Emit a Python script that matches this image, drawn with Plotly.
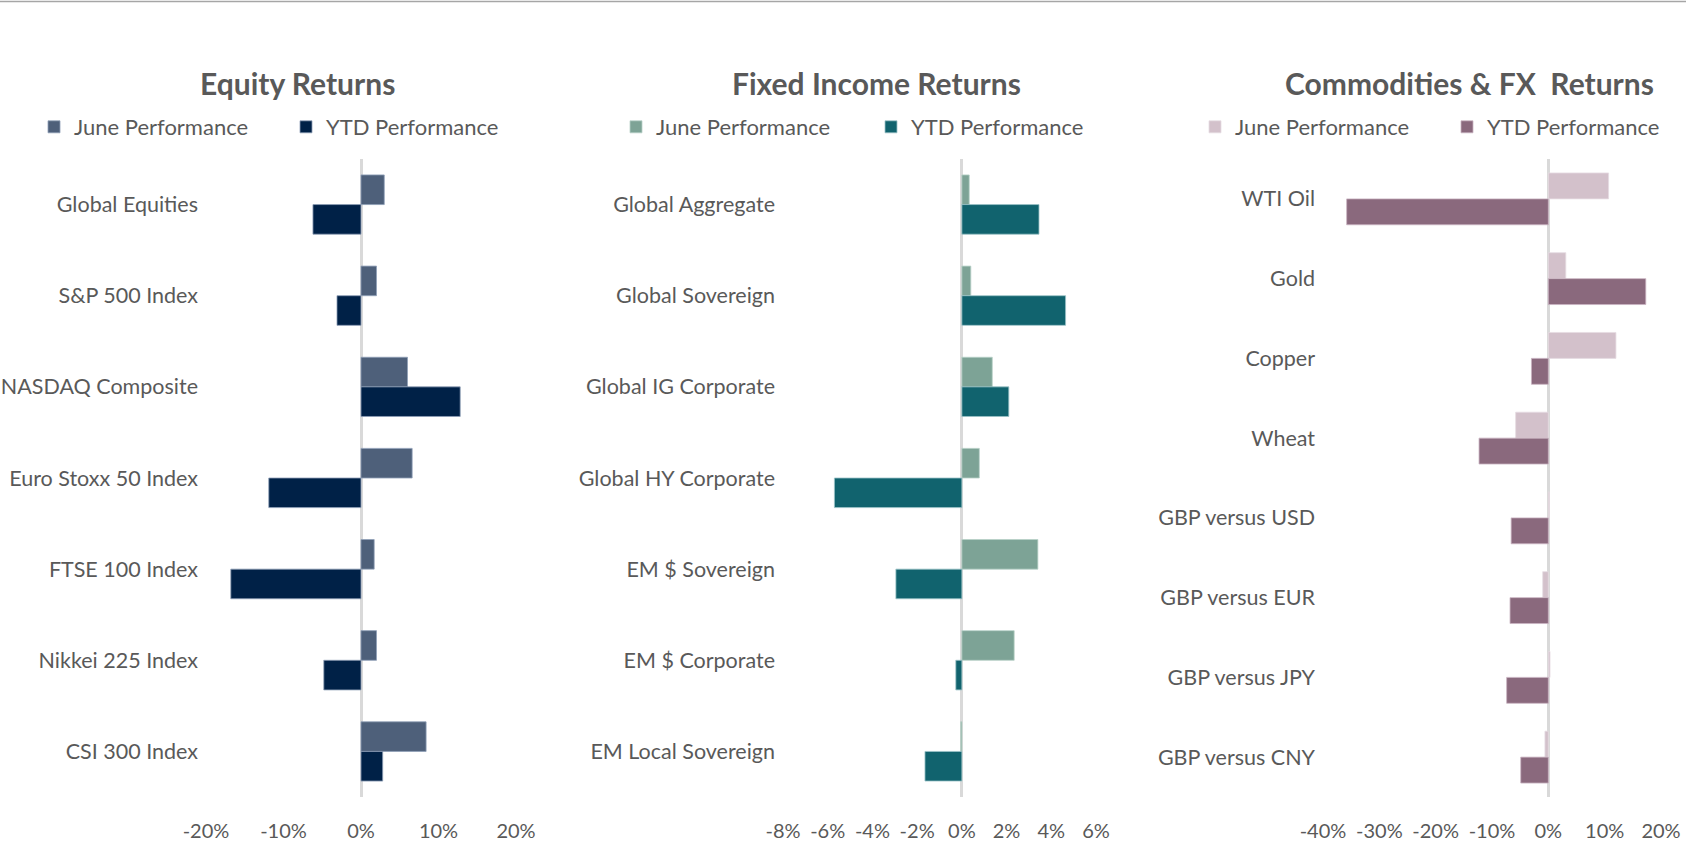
import plotly.graph_objects as go

W, H = 1686, 846

# ---------------- data ----------------
eq_categories = ["Global Equities", "S&P 500 Index", "NASDAQ Composite", "Euro Stoxx 50 Index",
                 "FTSE 100 Index", "Nikkei 225 Index", "CSI 300 Index"]
eq_june = [3.0, 2.0, 6.0, 6.6, 1.7, 2.0, 8.4]
eq_ytd = [-6.2, -3.1, 12.8, -11.9, -16.8, -4.8, 2.8]

fi_categories = ["Global Aggregate", "Global Sovereign", "Global IG Corporate", "Global HY Corporate",
                 "EM $ Sovereign", "EM $ Corporate", "EM Local Sovereign"]
fi_june = [0.33, 0.4, 1.36, 0.78, 3.4, 2.34, -0.05]
fi_ytd = [3.45, 4.64, 2.1, -5.7, -2.95, -0.27, -1.65]

cm_categories = ["WTI Oil", "Gold", "Copper", "Wheat", "GBP versus USD", "GBP versus EUR",
                 "GBP versus JPY", "GBP versus CNY"]
cm_june = [10.7, 3.1, 12.0, -5.8, 0.2, -1.0, 0.3, -0.6]
cm_ytd = [-35.8, 17.3, -3.0, -12.3, -6.6, -6.8, -7.4, -4.9]

eq_ticks = [-20, -10, 0, 10, 20]
eq_ticktext = ["-20%", "-10%", "0%", "10%", "20%"]
fi_ticks = [-8, -6, -4, -2, 0, 2, 4, 6]
fi_ticktext = ["-8%", "-6%", "-4%", "-2%", "0%", "2%", "4%", "6%"]
cm_ticks = [-40, -30, -20, -10, 0, 10, 20]
cm_ticktext = ["-40%", "-30%", "-20%", "-10%", "0%", "10%", "20%"]

titles = ["Equity Returns", "Fixed Income Returns", "Commodities &amp; FX\u00a0 Returns"]
series_names = ["June Performance", "YTD Performance"]

# ---------------- style ----------------
FONT = "Lato"
TXT = "#595959"
colors = [("#4E607A", "#002147"), ("#7DA396", "#11636E"), ("#D3C1CB", "#8A697D")]
line_cols = [("#8FA0B8", "#8FA0B8"), ("#B7D0C8", "#9CC3C8"), ("#E6DCE2", "#C9B4C1")]

# plot areas in pixels (x0, x1)
x_px = [(206, 516), (783, 1096), (1323, 1661)]
y_top, y_bot = 159, 797
panels = [
    (eq_categories, eq_june, eq_ytd, eq_ticks, eq_ticktext),
    (fi_categories, fi_june, fi_ytd, fi_ticks, fi_ticktext),
    (cm_categories, cm_june, cm_ytd, cm_ticks, cm_ticktext),
]
title_x = [297, 876, 1469]
legend_x = [34, 616, 1195]
legend_entry = [207, 210, 207]

fig = go.Figure()
layout = {}
for i, (cats, june, ytd, tv, tt) in enumerate(panels):
    n = "" if i == 0 else str(i + 1)
    xa, ya = "x" + n, "y" + n
    lg = "legend" + n
    for s, vals in enumerate([june, ytd]):
        fig.add_trace(go.Bar(
            y=cats, x=vals, orientation="h", name=series_names[s],
            marker=dict(color=colors[i][s], line=dict(color=line_cols[i][s], width=0.8)),
            xaxis=xa, yaxis=ya, legend=lg, hoverinfo="x+y",
        ))
    layout["xaxis" + n] = dict(
        domain=[x_px[i][0] / W, x_px[i][1] / W], anchor=ya,
        range=[tv[0], tv[-1]], tickvals=tv, ticktext=tt, automargin=False,
        showgrid=False, zeroline=True, zerolinecolor="#D9D9D9", zerolinewidth=3,
        showline=False, ticks="", tickfont=dict(family=FONT, size=20, color=TXT),
        ticklabelstandoff=20, fixedrange=True,
    )
    layout["yaxis" + n] = dict(
        domain=[1 - y_bot / H, 1 - y_top / H], anchor=xa, automargin=False,
        autorange="reversed", showgrid=False, zeroline=False, showline=False, ticks="",
        tickfont=dict(family=FONT, size=21.5, color=TXT), ticklabelstandoff=7,
        fixedrange=True, type="category",
    )
    layout[lg] = dict(
        orientation="h", x=legend_x[i] / W, y=1 - 127 / H, xanchor="left", yanchor="middle",
        font=dict(family=FONT, size=22, color=TXT), bgcolor="rgba(0,0,0,0)",
        entrywidth=legend_entry[i], entrywidthmode="pixels", traceorder="normal",
        itemclick=False, itemdoubleclick=False,
    )

annotations = [
    dict(text="<b>%s</b>" % titles[i], x=title_x[i] / W, y=1 - 83 / H, xref="paper", yref="paper",
         xanchor="center", yanchor="middle", showarrow=False,
         font=dict(family=FONT, size=30, color=TXT))
    for i in range(3)
]

fig.update_layout(
    template="none",
    width=W, height=H, margin=dict(l=0, r=0, t=0, b=0, autoexpand=False),
    paper_bgcolor="white", plot_bgcolor="white",
    barmode="group", bargap=0.35, bargroupgap=0,
    annotations=annotations,
    shapes=[dict(type="line", xref="paper", yref="paper", x0=0, x1=1, y0=1 - 1.5 / H, y1=1 - 1.5 / H,
                 line=dict(color="#A6A6A6", width=1.5))],
    **layout,
)

fig.write_html("out.html", config={"displayModeBar": False},
               post_script="document.body.style.margin='0';document.body.style.overflow='hidden';")
